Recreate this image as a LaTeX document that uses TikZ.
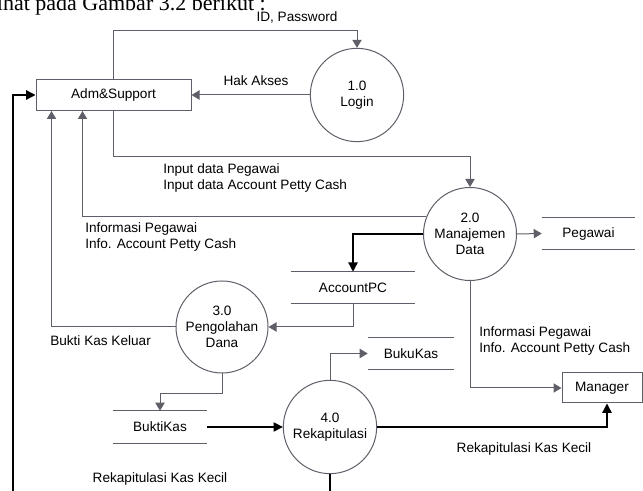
\documentclass[tikz,border=0pt]{standalone}
\usepackage{fontspec}
\setmainfont{Liberation Sans}
\newfontfamily\capfont{Liberation Serif}
\usetikzlibrary{arrows.meta,calc}
\definecolor{linec}{RGB}{95,95,105}
\begin{document}
\begin{tikzpicture}[x=0.75pt,y=-0.75pt,
  font=\fontsize{10.2}{12}\selectfont,
  proc/.style={circle,draw=linec,line width=0.75pt,minimum size=70pt,inner sep=0pt,align=center},
  ent/.style={rectangle,draw=linec,line width=0.75pt,inner sep=0pt},
  store/.style={rectangle,inner sep=0pt,minimum height=23.25pt},
  lbl/.style={inner sep=0pt,align=left},
  gflow/.style={draw=linec,line width=0.75pt,-{Triangle[length=6pt,width=7pt]}},
  bflow/.style={draw=black,line width=1pt,-{Triangle[length=7pt,width=7pt]}},
  bline/.style={draw=black,line width=1pt}]
\useasboundingbox (0,0) rectangle (643,491);
\clip (0,0) rectangle (643,491);

% caption fragment (cropped at top)
\node[anchor=base east,inner sep=0pt,font=\capfont\fontsize{16.5}{18}\selectfont] (cap) at (266,11) {dilihat pada Gambar 3.2 berikut :};

% entities
\node[ent,minimum width=116.25pt,minimum height=23.25pt] (adm) at (113.5,95) {Adm\&Support};
\node[ent,minimum width=60pt,minimum height=22.5pt] (manager) at (602,388) {Manager};

% processes
\node[proc] (login) at (357,95) {1.0\\Login};
\node[proc,minimum size=69.75pt] (p2) at (470,234) {2.0\\Manajemen\\Data};
\node[proc,minimum size=69pt] (p3) at (222,327) {3.0\\Pengolahan\\Dana};
\node[proc] (p4) at (330,427) {4.0\\Rekapitulasi};

% data stores
\node[store,minimum width=93pt] (accountpc) at (353,287.5) {AccountPC};
\node[store,minimum width=69.75pt] (pegawai) at (588.5,233.5) {Pegawai};
\node[store,minimum width=64.5pt] (bukukas) at (411,353.5) {BukuKas};
\node[store,minimum width=70.5pt,minimum height=24pt] (buktikas) at (160,427) {BuktiKas};
\foreach \s in {accountpc,pegawai,bukukas,buktikas}{
  \draw[linec,line width=0.75pt] (\s.north west) -- (\s.north east) (\s.south west) -- (\s.south east);
}

% free ends
\coordinate (bot4) at (330,496);
\coordinate (botl) at (13,496);

% flows
\draw[gflow] (adm.north) -- ++(0,-48) -| (login.north);
\draw[gflow] (login.west) -- (adm.east);
\draw[gflow] (adm.south) -- ++(0,46) -| (p2.north);
\draw[gflow] (p2.158.6) -| ([xshift=35.25pt]adm.south west);
\draw[gflow] (p3.west) -| ([xshift=12pt]adm.south west);
\draw[bflow] (p2.west) -| (accountpc.north);
\draw[gflow] (p2.east) -- (pegawai.west);
\draw[gflow] (accountpc.south) |- (p3.east);
\draw[gflow] (p3.south) -- ++(0,20) -| (buktikas.north);
\draw[bflow] (buktikas.east) -- (p4.west);
\draw[gflow] (p4.north) |- (bukukas.west);
\draw[gflow] (p2.south) |- (manager.west);
\draw[bflow] (p4.east) -| ([xshift=3.75pt]manager.south);
\draw[bline] (p4.south) -- (bot4);
\draw[bflow] (botl) |- (adm.west);

% labels
\node[lbl] (lid) at (297,17) {ID, Password};
\node[lbl] (lhak) at (256,81) {Hak Akses};
\node[lbl,anchor=west] (lin) at (163,178) {Input data Pegawai\\Input data Account Petty Cash};
\node[lbl,anchor=west] (linf1) at (85,237) {Informasi Pegawai\\Info. Account Petty Cash};
\node[lbl,anchor=west] (lbkk) at (50,341) {Bukti Kas Keluar};
\node[lbl,anchor=west] (linf2) at (479,341) {Informasi Pegawai\\Info. Account Petty Cash};
\node[lbl] (lrek1) at (524,449) {Rekapitulasi Kas Kecil};
\node[lbl] (lrek2) at (160,479) {Rekapitulasi Kas Kecil};
\end{tikzpicture}
\end{document}
